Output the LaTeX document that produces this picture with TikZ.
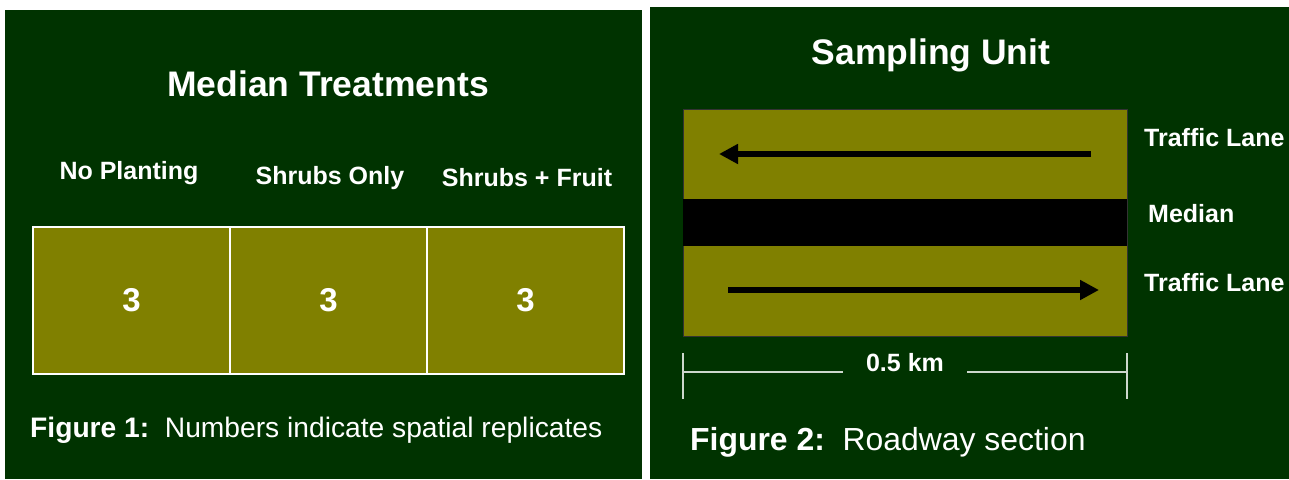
\documentclass[tikz,border=0pt]{standalone}
\usepackage{fontspec}
\setmainfont{Liberation Sans}
\usetikzlibrary{arrows.meta}

\definecolor{bg}{RGB}{0,51,0}
\definecolor{lane}{RGB}{128,128,0}
\definecolor{dim}{RGB}{205,215,205}

\tikzstyle{cell} = [rectangle, draw=white, fill=lane, line width=1.5pt, minimum width=197pt, minimum height=147pt, inner sep=0pt, text=white, font=\fontsize{33}{38}\selectfont\bfseries, node distance=197pt]
\tikzstyle{road} = [rectangle, draw=black!80, fill=lane, line width=0.8pt, minimum width=444pt, minimum height=227pt, inner sep=0pt]
\tikzstyle{mid} = [rectangle, fill=black, minimum width=444pt, minimum height=47pt, inner sep=0pt]
\tikzstyle{ttl} = [text=white, inner sep=0pt, font=\fontsize{35.5}{42}\selectfont\bfseries]
\tikzstyle{lbl} = [text=white, inner sep=0pt, font=\fontsize{25}{30}\selectfont\bfseries]
\tikzstyle{side} = [lbl, anchor=west]
\tikzstyle{figcap} = [text=white, inner sep=0pt, anchor=west]
\tikzstyle{flow} = [line width=6pt, -{Triangle[length=19pt, width=19pt]}]
\tikzstyle{dimline} = [draw=dim, line width=1.2pt]

\begin{document}
\begin{tikzpicture}[x=1pt, y=-1pt]
	% panels
	\fill[white] (0,0) rectangle (1289,479);
	\fill[bg] (5,10) rectangle (642,479);
	\fill[bg] (650,7) rectangle (1289,479);

	% Figure 1
	\node [ttl] (t1) at (328,84) {Median Treatments};
	\node [lbl] (h1) at (129,173) {No Planting};
	\node [lbl] (h2) at (330,178) {Shrubs Only};
	\node [lbl] (h3) at (527,178) {Shrubs + Fruit};
	\node [cell] (np) at (131.5,300.5) {3};
	\node [cell, right of=np] (so) {3};
	\node [cell, right of=so] (sf) {3};
	\node [figcap, font=\fontsize{28.2}{33}\selectfont] (fig1) at (30,430) {\textbf{Figure 1:}\ \ Numbers indicate spatial replicates};

	% Figure 2
	\node [ttl] (t2) at (931,55) {Sampling Unit};
	\node [road] (rd) at (905,222.5) {};
	\node [mid] (md) at (905,222.5) {};
	\coordinate (a1) at (1091,154);
	\coordinate (b1) at (719,154);
	\coordinate (a2) at (728,290);
	\coordinate (b2) at (1099,290);
	\draw [flow] (a1) -- (b1);
	\draw [flow] (a2) -- (b2);
	\node [side] (tl1) at (1144,138) {Traffic Lane};
	\node [side] (mn) at (1148,214) {Median};
	\node [side] (tl2) at (1144,283) {Traffic Lane};

	\coordinate (dl) at (683,372);
	\coordinate (dr) at (1127,372);
	\node [lbl, minimum width=124pt] (km) at (905,363) {0.5 km};
	\draw [dimline] (683,353) -- (683,399);
	\draw [dimline] (1127,353) -- (1127,399);
	\draw [dimline] (dl) -- (dl -| km.west);
	\draw [dimline] (dr) -- (dr -| km.east);
	\node [figcap, font=\fontsize{31.9}{37}\selectfont] (fig2) at (690,442) {\textbf{Figure 2:}\ \ Roadway section};
\end{tikzpicture}
\end{document}
